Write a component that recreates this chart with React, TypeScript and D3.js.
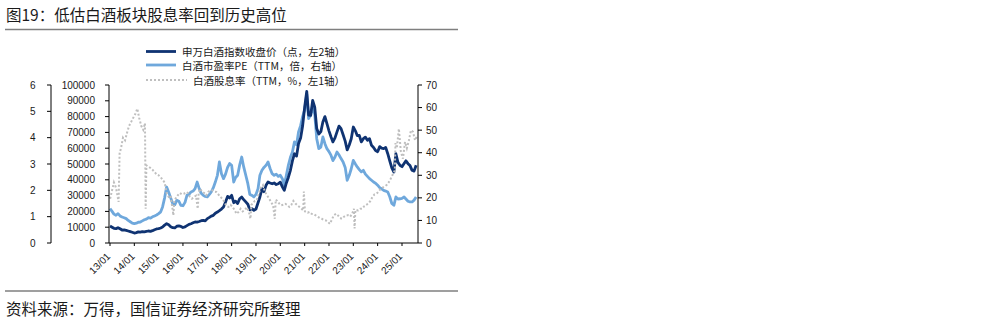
import React from "react";
import * as d3 from "d3";

// ---------- data ----------
const START_MONTH = "2013-01-01";

// 申万白酒指数收盘价 (monthly, 2013-01 .. 2025-08)
const indexValues: number[] = [
  10800, 10000, 9300, 9100, 9700, 9000, 8200, 8300, 8000, 7600, 7200, 6800,
  6300, 6600, 7000, 6900, 7200, 7000, 7300, 7600, 7400, 7800, 8400, 8900,
  9100, 9500, 10100, 11300, 12200, 11500, 10300, 9700, 9600, 10600, 10800, 10500,
  9800, 10200, 11000, 11800, 12200, 12800, 13300, 13200, 13600, 14100, 14300, 14000,
  15400, 16200, 17000, 17500, 18800, 19600, 20500, 21500, 22800, 26000, 29500, 28500,
  30200, 25500, 26500, 25000, 28000, 29100, 27500, 26000, 24500, 21000, 21700, 20700,
  21500, 25500, 29100, 34400, 32500, 36500, 38600, 38000, 37500, 38000, 37000, 37500,
  38500, 35500, 33300, 38000, 41500, 46000, 52000, 56500, 55000, 63000, 66500, 74000,
  86000, 96000, 81000, 80800, 90300, 86000, 72400, 69000, 70500, 76600, 80000, 75500,
  71000, 67100, 64000, 66500, 70300, 74000, 72400, 68500, 64500, 58900, 62000, 66000,
  73400, 71000, 68000, 68100, 64000, 66000, 67000, 65000, 66000, 61800, 60500, 58500,
  57800, 61000, 60000, 59700, 60500, 56500, 52000, 47500, 44900, 56500, 51000, 49200,
  48300, 50300, 52000, 50200, 49000, 46000, 45500, 49200,
];

// 白酒市盈率PE (TTM, monthly, 2013-01 .. 2025-08)
const peValues: number[] = [
  15.2, 14.0, 12.8, 12.3, 13.0, 12.0, 11.5, 11.2, 10.8, 10.0, 9.4, 8.8,
  8.6, 8.8, 9.2, 9.3, 9.8, 10.3, 10.6, 11.2, 11.0, 11.6, 12.0, 12.4,
  13.0, 13.8, 16.0, 20.0, 24.8, 22.5, 20.0, 17.4, 17.0, 18.9, 18.5, 16.7,
  16.5, 18.0, 21.1, 21.5, 22.6, 23.0, 24.1, 27.0, 24.1, 22.0, 21.1, 20.6,
  20.4, 21.5, 22.6, 24.5, 27.0, 30.0, 35.9, 30.7, 28.5, 30.5, 33.5, 35.2,
  34.4, 27.0, 29.0, 30.0, 34.5, 38.1, 33.7, 30.0, 26.3, 21.5, 21.1, 20.4,
  21.5, 24.1, 30.0, 32.2, 33.5, 34.4, 35.9, 33.0, 30.7, 30.0, 30.5, 29.5,
  30.0, 28.5, 25.6, 30.0, 34.4, 38.0, 40.3, 44.8, 43.5, 49.2, 52.0, 56.0,
  59.0, 66.0, 55.1, 56.6, 61.0, 57.0, 46.2, 41.8, 42.5, 47.0, 44.0, 41.8,
  40.5, 38.8, 36.5, 38.1, 40.3, 39.0, 37.4, 35.9, 33.5, 27.8, 30.0, 32.9,
  36.6, 35.0, 33.7, 32.5, 31.5, 32.2, 30.5, 29.5, 28.5, 27.8, 27.0, 26.5,
  25.6, 24.5, 24.0, 23.3, 23.0, 22.6, 20.5, 17.5, 16.7, 20.4, 19.5, 19.6,
  19.8, 20.4, 19.5, 18.5, 18.2, 18.2, 19.0, 20.4,
];

// 白酒股息率 (TTM, %)
const yieldDates: string[] = [
  "2013-01-03", "2013-02-01", "2013-03-01", "2013-04-01", "2013-05-10", "2013-05-25", "2013-06-15",
  "2013-07-15", "2013-08-15", "2013-09-15", "2013-10-15", "2013-11-15", "2013-12-15",
  "2014-01-15", "2014-02-15", "2014-03-15", "2014-04-15", "2014-05-15", "2014-06-10", "2014-06-20",
  "2014-07-01", "2014-08-01", "2014-09-01", "2014-10-01", "2014-11-01", "2014-12-01",
  "2015-01-01", "2015-02-01", "2015-03-01", "2015-04-01", "2015-05-01", "2015-06-01", "2015-07-01",
  "2015-08-10", "2015-08-25", "2015-09-15", "2015-10-15", "2015-11-15", "2015-12-15",
  "2016-01-15", "2016-02-15", "2016-03-15", "2016-04-15", "2016-05-15", "2016-06-15", "2016-07-15",
  "2016-08-10", "2016-08-25", "2016-09-15", "2016-10-15", "2016-11-15", "2016-12-15",
  "2017-01-15", "2017-02-15", "2017-03-15", "2017-04-15", "2017-05-15", "2017-06-15", "2017-07-15",
  "2017-08-15", "2017-09-15", "2017-10-15", "2017-11-15", "2017-12-15",
  "2018-01-15", "2018-02-15", "2018-03-15", "2018-04-15", "2018-05-15", "2018-06-15", "2018-07-15",
  "2018-08-15", "2018-09-15", "2018-10-10", "2018-10-25", "2018-11-15", "2018-12-15",
  "2019-01-15", "2019-02-15", "2019-03-15", "2019-04-15", "2019-05-15", "2019-06-15", "2019-07-15",
  "2019-08-15", "2019-09-15", "2019-10-10", "2019-10-25", "2019-11-15", "2019-12-15",
  "2020-01-15", "2020-02-15", "2020-03-15", "2020-04-15", "2020-05-15", "2020-06-15", "2020-07-15",
  "2020-08-15", "2020-09-15", "2020-10-15", "2020-11-15", "2020-12-10", "2020-12-20",
  "2021-01-05", "2021-02-15", "2021-03-15", "2021-04-15", "2021-05-15", "2021-06-15", "2021-07-15",
  "2021-08-15", "2021-09-15", "2021-10-15", "2021-11-15", "2021-12-15",
  "2022-01-15", "2022-02-15", "2022-03-15", "2022-04-15", "2022-05-15", "2022-06-15", "2022-07-15",
  "2022-08-15", "2022-09-15", "2022-10-15", "2022-11-15", "2022-12-15",
  "2023-01-10", "2023-01-20", "2023-02-01", "2023-03-15", "2023-04-15", "2023-05-15", "2023-06-15",
  "2023-07-15", "2023-08-15", "2023-09-15", "2023-10-15", "2023-11-15", "2023-12-15",
  "2024-01-15", "2024-02-15", "2024-03-15", "2024-04-15", "2024-05-15", "2024-06-15", "2024-07-15",
  "2024-08-15", "2024-09-15", "2024-09-25", "2024-10-15", "2024-11-15", "2024-12-15",
  "2025-01-15", "2025-02-15", "2025-03-15", "2025-04-15", "2025-05-15", "2025-06-15", "2025-07-15",
  "2025-08-20",
];
const yieldValues: number[] = [
  1.68, 2.0, 2.3, 2.1, 1.56, 3.4, 3.6,
  4.0, 3.9, 4.2, 4.45, 4.6, 4.75,
  4.9, 5.1, 4.75, 4.45, 4.3, 4.55, 1.3,
  2.95, 2.9, 2.85, 2.78, 2.7, 2.6,
  2.57, 2.5, 2.4, 2.3, 1.9, 1.75, 1.8,
  1.05, 1.6, 1.7, 1.81, 1.9, 1.85,
  1.87, 1.94, 1.9, 1.75, 1.68, 1.75, 1.8,
  1.3, 1.94, 2.06, 1.95, 1.9, 1.81,
  1.94, 2.0, 2.0, 1.95, 1.94, 1.85, 1.75,
  1.68, 1.55, 1.4, 1.37, 1.45,
  1.37, 1.25, 1.11, 1.18, 1.3, 1.2, 1.25,
  1.35, 1.2, 0.92, 1.45, 1.5, 1.6,
  1.63, 1.9, 2.1, 2.2, 1.95, 1.81, 1.7,
  1.56, 1.43, 0.92, 1.65, 1.6, 1.5,
  1.43, 1.45, 1.49, 1.45, 1.37, 1.45, 1.6,
  1.5, 1.43, 1.37, 1.3, 1.24, 1.95,
  1.2, 1.15, 1.18, 1.11, 1.1, 1.05, 1.0,
  0.95, 0.92, 0.88, 0.86, 0.8,
  0.73, 0.9, 1.05, 1.11, 1.05, 0.95, 0.92,
  1.0, 1.05, 1.05, 1.0, 1.11,
  1.3, 0.55, 1.25, 1.24, 1.3, 1.3, 1.4,
  1.45, 1.5, 1.6, 1.75, 1.85, 1.87,
  1.95, 2.06, 2.1, 2.15, 2.2, 2.3, 2.44,
  2.6, 2.75, 3.8, 3.6, 4.34, 3.46,
  3.2, 3.84, 3.6, 3.9, 4.28, 4.22, 3.9,
  4.09,
];

const xTickLabels = ["13/01", "14/01", "15/01", "16/01", "17/01", "18/01", "19/01", "20/01", "21/01", "22/01", "23/01", "24/01", "25/01"];
const yieldTicks = [0, 1, 2, 3, 4, 5, 6];
const indexTicks = [0, 10000, 20000, 30000, 40000, 50000, 60000, 70000, 80000, 90000, 100000];
const peTicks = [0, 10, 20, 30, 40, 50, 60, 70];
const legendLabels = [
  "申万白酒指数收盘价（点，左2轴）",
  "白酒市盈率PE（TTM，倍，右轴）",
  "白酒股息率（TTM，%，左1轴）",
];
const titleText = "图19：低估白酒板块股息率回到历史高位";
const sourceText = "资料来源：万得，国信证券经济研究所整理";

const CJK = "'Noto Sans CJK SC', 'Noto Sans', sans-serif";
const NUM = "'Liberation Sans', Arial, sans-serif";
const C_DARK = "#0f3372";
const C_LIGHT = "#6fa8dc";
const C_GRAY = "#bfbfbf";

export default function App() {
  const parse = d3.timeParse("%Y-%m-%d");
  const start = parse(START_MONTH) as Date;
  const monthDates = indexValues.map((_, i) => d3.timeMonth.offset(start, i));
  const yDates = yieldDates.map((s) => parse(s) as Date);

  const top = 85;
  const bottom = 243;
  const x = d3.scaleTime().domain([new Date(2013, 0, 1), new Date(2025, 7, 29)]).range([110, 418]);
  const yIdx = d3.scaleLinear().domain([0, 100000]).range([bottom, top]);
  const yPe = d3.scaleLinear().domain([0, 70]).range([bottom, top]);
  const yYld = d3.scaleLinear().domain([0, 6]).range([bottom, top]);

  const idxLine = d3.line<number>().x((_, i) => x(monthDates[i])).y((d) => yIdx(d));
  const peLine = d3.line<number>().x((_, i) => x(monthDates[i])).y((d) => yPe(d));
  const yldLine = d3.line<number>().x((_, i) => x(yDates[i])).y((d) => yYld(d));

  const tickDates = xTickLabels.map((l) => new Date(2000 + Number(l.slice(0, 2)), Number(l.slice(3)) - 1, 1));

  const ax1 = 51;
  const ax2 = 109;
  const axR = 418;

  return (
    <svg width={981} height={319} style={{ position: "absolute", left: 0, top: 0, background: "#fff" }}>
      <rect width={981} height={319} fill="#fff" />
      {/* title */}
      <text x={6} y={14} fontFamily={CJK} fontSize={15.5} fill="#1a1a1a" dominantBaseline="central">
        {titleText}
      </text>
      <line x1={5} x2={458} y1={29.5} y2={29.5} stroke="#7f7f7f" strokeWidth={1.5} />

      {/* legend */}
      <g fontFamily={CJK} fontSize={10.5} fill="#1a1a1a">
        <line x1={146} x2={176} y1={51.5} y2={51.5} stroke={C_DARK} strokeWidth={2.8} />
        <text x={182} y={51.5} dominantBaseline="central">{legendLabels[0]}</text>
        <line x1={146} x2={176} y1={65} y2={65} stroke={C_LIGHT} strokeWidth={2.8} />
        <text x={182} y={65} dominantBaseline="central">{legendLabels[1]}</text>
        <line x1={146} x2={187} y1={80} y2={80} stroke={C_GRAY} strokeWidth={2} strokeDasharray="2,2" />
        <text x={193} y={80} dominantBaseline="central">{legendLabels[2]}</text>
      </g>

      {/* series */}
      <path d={peLine(peValues) || ""} fill="none" stroke={C_LIGHT} strokeWidth={2.8} strokeLinejoin="round" />
      <path d={idxLine(indexValues) || ""} fill="none" stroke={C_DARK} strokeWidth={2.8} strokeLinejoin="round" />
      <path d={yldLine(yieldValues) || ""} fill="none" stroke={C_GRAY} strokeWidth={2} strokeDasharray="2,2" />

      {/* left axis 1: dividend yield */}
      <g fontFamily={NUM} fontSize={10} fill="#1a1a1a">
        <line x1={ax1} x2={ax1} y1={top} y2={bottom} stroke="#000" strokeWidth={1} />
        {yieldTicks.map((t) => (
          <g key={"y1" + t}>
            <line x1={ax1 - 4} x2={ax1} y1={yYld(t)} y2={yYld(t)} stroke="#000" />
            <text x={35.5} y={yYld(t)} textAnchor="end" dominantBaseline="central">{t}</text>
          </g>
        ))}
      </g>

      {/* left axis 2: index */}
      <g fontFamily={NUM} fontSize={10} fill="#1a1a1a">
        <line x1={ax2} x2={ax2} y1={top} y2={bottom} stroke="#000" strokeWidth={1} />
        {indexTicks.map((t) => (
          <g key={"y2" + t}>
            <line x1={ax2 - 4} x2={ax2} y1={yIdx(t)} y2={yIdx(t)} stroke="#000" />
            <text x={95} y={yIdx(t)} textAnchor="end" dominantBaseline="central">{t}</text>
          </g>
        ))}
      </g>

      {/* right axis: PE */}
      <g fontFamily={NUM} fontSize={10} fill="#1a1a1a">
        <line x1={axR} x2={axR} y1={top} y2={bottom} stroke="#000" strokeWidth={1} />
        {peTicks.map((t) => (
          <g key={"yr" + t}>
            <line x1={axR} x2={axR + 4} y1={yPe(t)} y2={yPe(t)} stroke="#000" />
            <text x={426} y={yPe(t)} textAnchor="start" dominantBaseline="central">{t}</text>
          </g>
        ))}
      </g>

      {/* x axis */}
      <g fontFamily={NUM} fontSize={10} fill="#1a1a1a">
        <line x1={ax2} x2={axR} y1={bottom} y2={bottom} stroke="#000" strokeWidth={1} />
        {tickDates.map((d, i) => (
          <g key={"x" + i}>
            <line x1={x(d)} x2={x(d)} y1={bottom} y2={bottom + 3} stroke="#000" />
            <text
              transform={`translate(${x(d) + 1},${bottom + 14}) rotate(-45)`}
              textAnchor="end"
            >
              {xTickLabels[i]}
            </text>
          </g>
        ))}
      </g>

      {/* source */}
      <line x1={5} x2={458} y1={291} y2={291} stroke="#7f7f7f" strokeWidth={1.5} />
      <text x={6} y={307.5} fontFamily={CJK} fontSize={15.5} fill="#1a1a1a" dominantBaseline="central">
        {sourceText}
      </text>
    </svg>
  );
}
